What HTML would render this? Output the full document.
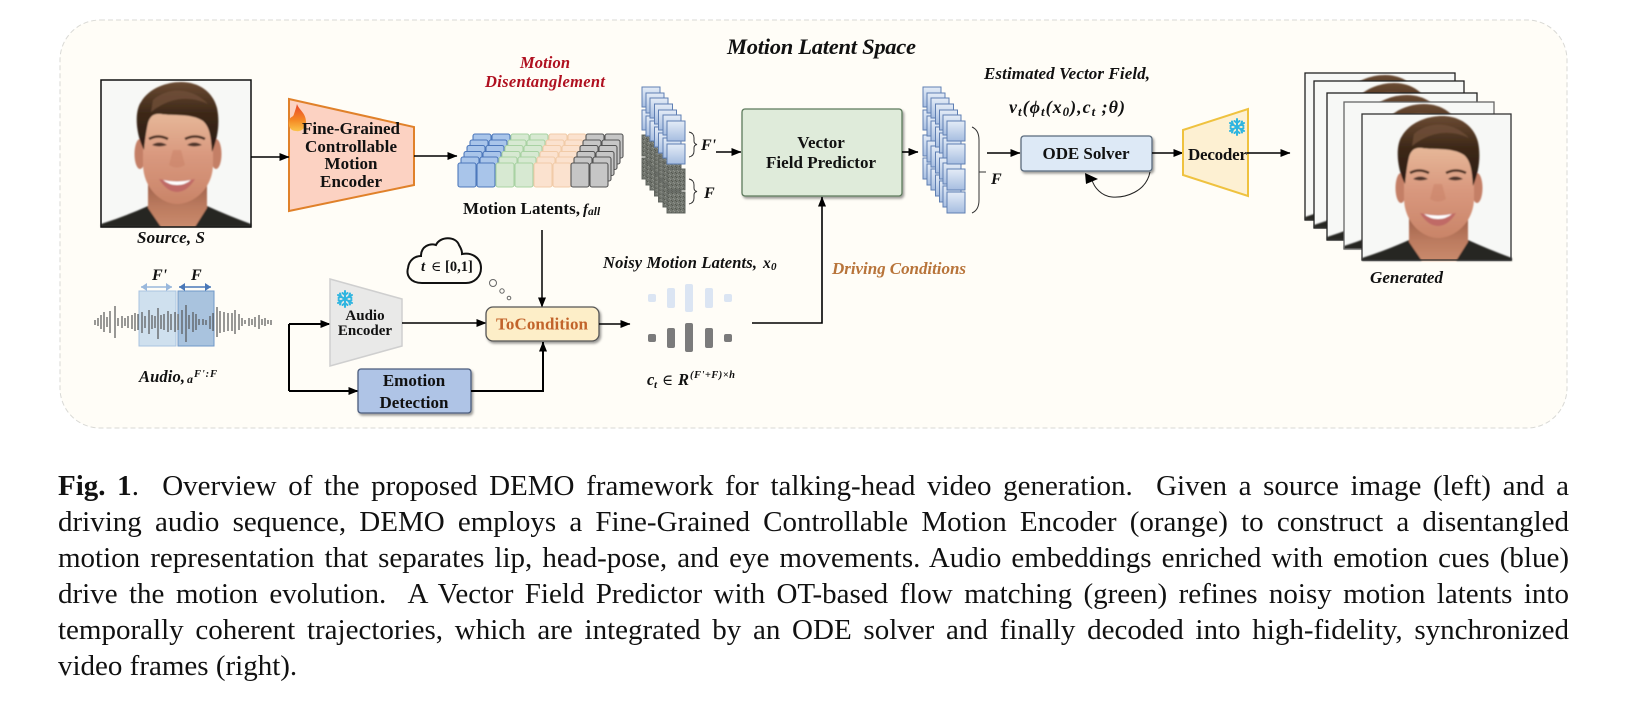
<!DOCTYPE html>
<html><head><meta charset="utf-8">
<style>
html,body{margin:0;padding:0;background:#fff;width:1627px;height:712px;overflow:hidden}
svg{position:absolute;left:0;top:0}
svg text{font-family:"Liberation Serif","DejaVu Serif",serif;font-weight:bold;fill:#111}
.i{font-style:italic}
.c{position:absolute;left:58px;height:36px;line-height:36px;width:1511px;font:29px/36px "Liberation Serif",serif;color:#111;text-align:justify;text-align-last:justify;white-space:nowrap}
.l{text-align:left;text-align-last:left}
</style></head><body>
<svg width="1627" height="712" viewBox="0 0 1627 712" xmlns="http://www.w3.org/2000/svg">
<defs>
<marker id="a" markerUnits="userSpaceOnUse" markerWidth="10" markerHeight="8" refX="9.5" refY="4" orient="auto"><path d="M0 0L10 4L0 8z" fill="#000"/></marker>
<filter id="sh" x="-10%" y="-10%" width="125%" height="130%"><feDropShadow dx="1.5" dy="2" stdDeviation="1.2" flood-color="#000" flood-opacity=".4"/></filter>
<filter id="b"><feGaussianBlur stdDeviation=".8"/></filter>
<linearGradient id="skin" x1="0" y1="0" x2="0" y2="1"><stop offset="0" stop-color="#e8bc9c"/><stop offset=".5" stop-color="#d9987e"/><stop offset="1" stop-color="#c98468"/></linearGradient>
<linearGradient id="neck" x1="0" y1="0" x2="0" y2="1"><stop offset="0" stop-color="#9c5f48"/><stop offset=".6" stop-color="#bd7c60"/><stop offset="1" stop-color="#c98a6c"/></linearGradient>
<linearGradient id="hair" x1="0" y1="0" x2="0" y2="1"><stop offset="0" stop-color="#6a4a32"/><stop offset=".45" stop-color="#3d2818"/><stop offset="1" stop-color="#291a10"/></linearGradient>
<linearGradient id="cube" x1="0" y1="0" x2="0" y2="1"><stop offset="0" stop-color="#e4ecf7"/><stop offset="1" stop-color="#a6bde0"/></linearGradient>
<linearGradient id="fl" x1="0" y1="0" x2="0" y2="1"><stop offset="0" stop-color="#e8452a"/><stop offset=".6" stop-color="#f58a25"/><stop offset="1" stop-color="#fbc34a"/></linearGradient>
<pattern id="n" width="4" height="4" patternUnits="userSpaceOnUse"><rect width="4" height="4" fill="#72766f"/><rect width="1" height="1" x="1" y="0" fill="#55584f"/><rect width="1" height="1" x="3" y="2" fill="#8d9088"/><rect width="1" height="1" x="0" y="3" fill="#55584f"/><rect width="1" height="1" x="2" y="1" fill="#8d9088"/></pattern>
<g id="face">
 <rect width="150" height="147" fill="#f7f8f6"/>
 <g filter="url(#b)">
 <path d="M0 147 L0 144 Q25 136 47 126 L106 126 Q128 136 150 144 L150 147Z" fill="#262624"/>
 <path d="M47 100 L47 128 L60 147 L94 147 L106 128 L106 100Z" fill="url(#neck)"/>
 <ellipse cx="39" cy="74" rx="5.500" ry="15" fill="#c47f66"/><ellipse cx="115" cy="74" rx="5.500" ry="15" fill="#c47f66"/>
 <path d="M42 42 C42 22 112 22 112 42 L112 84 C112 108 93 124 76 124 C60 124 42 108 42 84Z" fill="url(#skin)"/>
 <path d="M43 70 C35 55 33 32 40 22 C48 8 66 2 80 2 C98 2 112 12 116 28 C119 42 117 58 111 72 C110 58 109 47 102 41 C90 33 72 36 60 34 C53 33 49 36 47 43 C45 52 44 60 43 70Z" fill="url(#hair)"/>
 <path d="M52 20 C68 6 92 8 107 24 C90 16 70 16 50 32Z" fill="#72503a" opacity=".75"/>
 <path d="M48 59 Q57 54 67 59" stroke="#4a2f20" stroke-width="2.500" fill="none"/><path d="M84 59 Q94 54 104 59" stroke="#4a2f20" stroke-width="2.500" fill="none"/>
 <path d="M51 65 Q58 60 66 65 Q58 68 51 65Z" fill="#50342a"/><path d="M86 65 Q93 60 101 65 Q93 68 86 65Z" fill="#50342a"/>
 <path d="M68 85 Q76 90 84 85 L80 70 L72 70Z" fill="#c77f66" opacity=".5"/>
 <path d="M58 99 Q76 103 94 99 Q86 112 76 112 Q66 112 58 99Z" fill="#c06a66"/>
 <path d="M62 100 Q76 103 90 100 Q84 105 76 105 Q68 105 62 100Z" fill="#fff"/>
 </g>
</g>
<g id="st"><rect x="15" y="-29" width="18" height="24" rx="2"/><rect x="12" y="-23" width="18" height="24" rx="2"/><rect x="9" y="-17.500" width="18" height="24" rx="2"/><rect x="6" y="-11.500" width="18" height="24" rx="2"/><rect x="3" y="-6" width="18" height="24" rx="2"/><rect x="0" y="0" width="18" height="24" rx="2"/></g>
<g id="co"><use href="#st"/><use href="#st" x="19"/></g>
<g id="lb"><rect x="0" y="0" width="18" height="20" fill="url(#cube)" stroke="#5f7fb3" stroke-width="1"/><rect x="0" y="23" width="18" height="20" fill="url(#cube)" stroke="#5f7fb3" stroke-width="1"/><rect x="0" y="48" width="18" height="21" fill="url(#cube)" stroke="#5f7fb3" stroke-width="1"/><rect x="0" y="71" width="18" height="21" fill="url(#cube)" stroke="#5f7fb3" stroke-width="1"/></g>
<g id="lg"><rect x="0" y="0" width="18" height="20" fill="url(#cube)" stroke="#5f7fb3" stroke-width="1"/><rect x="0" y="23" width="18" height="20" fill="url(#cube)" stroke="#5f7fb3" stroke-width="1"/><rect x="0" y="48" width="18" height="21" fill="url(#n)" stroke="#626660" stroke-width="1"/><rect x="0" y="71" width="18" height="21" fill="url(#n)" stroke="#626660" stroke-width="1"/></g>
<g id="snow" stroke="#2fb5e0" stroke-width="2" stroke-linecap="round" fill="none"><path d="M0 -8V8M-7 -4L7 4M-7 4L7 -4"/><path d="M-2.500 -6L0 -4L2.500 -6M-2.500 6L0 4L2.500 6M-6.500 -1L-4 -2.500L-5 -5.500M6.500 1L4 2.500L5 5.500M-6.500 1L-4 2.500L-5 5.500M6.500 -1L4 -2.500L5 -5.500"/></g>
</defs>

<rect x="60" y="20" width="1507" height="408" rx="40" fill="#fffdf7" stroke="#d9d9d5" stroke-dasharray="5 3"/>

<!-- source -->
<use href="#face" x="101" y="80"/>
<rect x="101" y="80" width="150" height="147" fill="none" stroke="#111" stroke-width="1.500"/>

<!-- encoder -->
<path d="M289 99L414 127V185L289 211Z" fill="#fcd2c2" stroke="#e0812a" stroke-width="2"/>
<path d="M297 104C299 110 306 113 306 122C306 129 300 132 296 131C291 131 288 127 289 121C290 116 293 118 294 114C295 111 296 108 297 104Z" fill="url(#fl)"/>
<g font-size="17" text-anchor="middle"><text x="351" y="134" textLength="98" lengthAdjust="spacing">Fine-Grained</text><text x="351" y="152" textLength="92" lengthAdjust="spacing">Controllable</text><text x="351" y="169">Motion</text><text x="351" y="187" textLength="62" lengthAdjust="spacing">Encoder</text></g>
<path d="M251 157H289" stroke="#000" stroke-width="1.600" marker-end="url(#a)"/>
<path d="M414 156H457" stroke="#000" stroke-width="1.600" marker-end="url(#a)"/>

<!-- latents -->
<g fill="#a9c5ea" stroke="#4d78bb" stroke-width="1.100"><use href="#co" x="458" y="163"/></g>
<g fill="#d7e9d2" stroke="#a9d2a3" stroke-width="1.100"><use href="#co" x="496" y="163"/></g>
<g fill="#fbe2cf" stroke="#f1cba8" stroke-width="1.100"><use href="#co" x="534" y="163"/></g>
<g fill="#c6c6c6" stroke="#555" stroke-width="1.100"><use href="#co" x="571" y="163"/></g>
<text class="i" x="520" y="68" font-size="16.500" textLength="50" style="fill:#b01020">Motion</text>
<text class="i" x="485" y="87" font-size="16.500" textLength="120" style="fill:#b01020">Disentanglement</text>
<text x="463" y="214" font-size="17" textLength="117">Motion Latents,</text>
<text class="i" x="583" y="214" font-size="15">f<tspan font-size="11.500" dy="1">all</tspan></text>

<!-- left stack -->
<g><use href="#lg" x="642" y="87"/><use href="#lg" x="646" y="93"/><use href="#lg" x="650" y="98"/><use href="#lg" x="654.500" y="104"/><use href="#lg" x="658.500" y="110"/><use href="#lg" x="663" y="115"/><use href="#lg" x="667" y="121"/></g>
<path d="M689 132Q694 133 694 138V141Q694 144 697 144.500Q694 145 694 148V151Q694 156 689 157" fill="none" stroke="#333"/>
<path d="M689 179Q694 180 694 185V188Q694 191 697 191.500Q694 192 694 195V198Q694 203 689 204" fill="none" stroke="#333"/>
<text class="i" x="701" y="150" font-size="16">F'</text>
<text class="i" x="704" y="198" font-size="16">F</text>
<path d="M716 152H741" stroke="#000" stroke-width="1.600" marker-end="url(#a)"/>

<!-- VFP -->
<rect x="742" y="109" width="160" height="87" rx="3" fill="#dfebda" stroke="#5d7a5c" stroke-width="1.300" filter="url(#sh)"/>
<text x="821" y="148" font-size="17" text-anchor="middle">Vector</text>
<text x="821" y="168" font-size="17" text-anchor="middle" textLength="110">Field Predictor</text>
<path d="M902 152H918" stroke="#000" stroke-width="1.600" marker-end="url(#a)"/>

<!-- right stack -->
<g><use href="#lb" x="923" y="87"/><use href="#lb" x="927" y="93"/><use href="#lb" x="931" y="98"/><use href="#lb" x="935.500" y="104"/><use href="#lb" x="939.500" y="110"/><use href="#lb" x="943" y="115"/><use href="#lb" x="947" y="121"/></g>
<path d="M972 127Q979 130 979 140V200Q979 210 972 213" fill="none" stroke="#333"/><path d="M979 172H986" stroke="#333"/>
<text class="i" x="991" y="184" font-size="16">F</text>
<text class="i" x="984" y="79" font-size="17" textLength="166">Estimated Vector Field,</text>
<text class="i" x="1009" y="113" font-size="18" textLength="116">v<tspan dy="3" font-size="13">t</tspan><tspan dy="-3">(ϕ</tspan><tspan dy="3" font-size="13">t</tspan><tspan dy="-3">(x</tspan><tspan dy="3" font-size="13">0</tspan><tspan dy="-3">),c</tspan><tspan dy="3" font-size="13">t</tspan><tspan dy="-3"> ;θ)</tspan></text>
<text class="i" x="727" y="54" font-size="22.500" textLength="189">Motion Latent Space</text>
<path d="M987 153H1020" stroke="#000" stroke-width="1.600" marker-end="url(#a)"/>

<!-- ODE -->
<path d="M1150 172C1146 192 1125 198 1112 197C1101 196 1094 187 1092 180" fill="none" stroke="#222"/>
<rect x="1021" y="136" width="131" height="35" rx="3" fill="#dde9f6" stroke="#5a6a7c" stroke-width="1.300" filter="url(#sh)"/>
<path d="M1085 173L1098 179L1086 184Z" fill="#000"/>
<text x="1086" y="159" font-size="17" text-anchor="middle" textLength="87">ODE Solver</text>
<path d="M1152 153H1183" stroke="#000" stroke-width="1.600" marker-end="url(#a)"/>

<!-- decoder -->
<path d="M1183 130L1248 109V196L1183 175Z" fill="#fdf0d2" stroke="#efc23f" stroke-width="2"/>
<use href="#snow" x="1237" y="127"/>
<text x="1188" y="160" font-size="17" textLength="59">Decoder</text>
<path d="M1247 153H1290" stroke="#000" stroke-width="1.600" marker-end="url(#a)"/>

<!-- generated -->
<use href="#face" x="1305" y="73"/><rect x="1305" y="73" width="150" height="147" fill="none" stroke="#222" stroke-width="1.300"/>
<use href="#face" x="1314" y="81"/><rect x="1314" y="81" width="150" height="147" fill="none" stroke="#222" stroke-width="1.300"/>
<use href="#face" x="1327" y="93"/><rect x="1327" y="93" width="150" height="147" fill="none" stroke="#222" stroke-width="1.300"/>
<use href="#face" x="1344" y="102"/><rect x="1344" y="102" width="150" height="147" fill="none" stroke="#666" stroke-width="1.300"/>
<use href="#face" x="1362" y="114"/><rect x="1362" y="114" width="149" height="146" fill="none" stroke="#333" stroke-width="1.300"/>
<text class="i" x="1370" y="283" font-size="17" textLength="73">Generated</text>

<!-- lower -->
<text class="i" x="137" y="243" font-size="17" textLength="68">Source, S</text>
<rect x="139" y="291" width="37" height="55" fill="#cfe0ee" stroke="#a9c3e0"/>
<rect x="178" y="291" width="36" height="55" fill="#a9c3de" stroke="#6f98c8"/>
<path stroke="#555" stroke-width="1.200" fill="none" d="M95 320v5M98 318v8M101 315v14M104 312v20M107 317v10M110 311v22M115 306v32M118 318v8M122 316v12M125 318v8M128 316v12M132 315v14M135 313v18M138 314v16M142 312v21M145 316v12M149 310v24M152 315v14M155 316v12M158 308v31M161 315v14M164 314v16M168 311v21M171 314v16M175 312v20M178 314v16M182 310v24M186 305v37M189 315v14M193 312v20M196 314v16M199 319v6M203 319v6M206 320v5M210 316v13M213 313v18M217 307v30M220 311v22M224 312v20M228 313v18M232 313v18M235 310v24M239 314v16M242 318v8M245 320v4M249 318v8M252 319v6M255 317v10M259 315v14M262 319v6M265 318v8M268 320v4M271 320v5"/>
<path d="M141 287H172" stroke="#9ab8dc" stroke-width="1.500"/><path d="M147 283L141 287L147 291ZM166 283L172 287L166 291Z" fill="#9ab8dc"/>
<path d="M179 287H211" stroke="#4a78b8" stroke-width="1.500"/><path d="M185 283L179 287L185 291ZM205 283L211 287L205 291Z" fill="#4a78b8"/>
<text class="i" x="152" y="280" font-size="16">F'</text><text class="i" x="191" y="280" font-size="16">F</text>
<text class="i" x="139" y="382" font-size="16.500" textLength="46">Audio,</text>
<text class="i" x="187" y="383" font-size="12">a</text><text class="i" x="194" y="377" font-size="10.500" textLength="23">F':F</text>

<path d="M289 324V391" stroke="#000" stroke-width="2" fill="none"/>
<path d="M289 324H330" stroke="#000" stroke-width="2" marker-end="url(#a)"/>
<path d="M289 391H358" stroke="#000" stroke-width="2" marker-end="url(#a)"/>
<path d="M330 279L402 299V346L330 366Z" fill="#e9e9e8" stroke="#cfcfcf" stroke-width="1.500"/>
<use href="#snow" x="345" y="299"/>
<text x="365" y="320" font-size="15" text-anchor="middle">Audio</text>
<text x="365" y="335" font-size="15" text-anchor="middle">Encoder</text>
<rect x="358" y="369" width="113" height="44" rx="3" fill="#afc4e6" stroke="#4b5c7c" stroke-width="1.300" filter="url(#sh)"/>
<text x="414" y="386" font-size="17" text-anchor="middle">Emotion</text>
<text x="414" y="408" font-size="17" text-anchor="middle">Detection</text>
<path d="M471 391H543V342" stroke="#000" stroke-width="2" fill="none" marker-end="url(#a)"/>
<path d="M402 323H486" stroke="#000" stroke-width="1.500" marker-end="url(#a)"/>
<path d="M542 230V307" stroke="#000" stroke-width="1.500" marker-end="url(#a)"/>
<rect x="486" y="307" width="113" height="34" rx="7" fill="#fdeec8" stroke="#555" stroke-width="1.300" filter="url(#sh)"/>
<text x="542" y="329.500" font-size="17" text-anchor="middle" textLength="92" style="fill:#c2642b">ToCondition</text>
<path d="M599 324H630" stroke="#000" stroke-width="1.500" marker-end="url(#a)"/>

<path d="M422 283C410 283 406 275 408 268C409 260 415 256 421 256C421 246 430 243 436 245C440 236 456 236 459 245C462 250 462 252 462 254C472 252 481 258 481 268C481 277 474 283 466 283Z" fill="#fffdf7" stroke="#111" stroke-width="2"/>
<text class="i" x="421" y="271" font-size="15">t</text><text x="431" y="271" font-size="14" style="font-weight:normal">∈</text><text x="445" y="271" font-size="14.500">[0,1]</text>
<circle cx="493" cy="283" r="3.500" fill="none" stroke="#666"/><circle cx="502" cy="291" r="2.200" fill="none" stroke="#666"/><circle cx="509" cy="298" r="1.800" fill="none" stroke="#666"/>

<text class="i" x="603" y="268" font-size="16.500" textLength="154">Noisy Motion Latents,</text>
<text class="i" x="763" y="268" font-size="15.500">x</text><text class="i" x="771" y="270" font-size="11">0</text>
<g fill="#dbe5f3"><rect x="648" y="294" width="8" height="8" rx="2"/><rect x="667" y="288" width="8" height="20" rx="2"/><rect x="685" y="284" width="8" height="28" rx="2"/><rect x="705" y="288" width="8" height="20" rx="2"/><rect x="724" y="294" width="8" height="8" rx="2"/></g>
<g fill="#7b7b7b"><rect x="648" y="334" width="8" height="8" rx="2"/><rect x="667" y="328" width="8" height="20" rx="2"/><rect x="685" y="323" width="8" height="29" rx="2"/><rect x="705" y="328" width="8" height="20" rx="2"/><rect x="724" y="334" width="8" height="8" rx="2"/></g>
<text class="i" x="647" y="385" font-size="16.500">c</text><text class="i" x="654" y="388" font-size="11">t</text>
<text x="662" y="385" font-size="15" style="font-weight:normal">∈</text>
<text class="i" x="678" y="385" font-size="16.500">R</text><text class="i" x="690" y="378" font-size="10.500" textLength="45">(F'+F)×h</text>
<path d="M752 323H822V197" stroke="#000" stroke-width="1.600" fill="none" marker-end="url(#a)"/>
<text class="i" x="832" y="274" font-size="17" textLength="134" style="fill:#b8743a">Driving Conditions</text>
</svg>
<div class="c" style="top:468px"><b>Fig. 1</b>.&nbsp; Overview of the proposed DEMO framework for talking-head video generation.&nbsp; Given a source image (left) and a</div>
<div class="c" style="top:504px">driving audio sequence, DEMO employs a Fine-Grained Controllable Motion Encoder (orange) to construct a disentangled</div>
<div class="c" style="top:540px">motion representation that separates lip, head-pose, and eye movements. Audio embeddings enriched with emotion cues (blue)</div>
<div class="c" style="top:576px">drive the motion evolution.&nbsp; A Vector Field Predictor with OT-based flow matching (green) refines noisy motion latents into</div>
<div class="c" style="top:612px">temporally coherent trajectories, which are integrated by an ODE solver and finally decoded into high-fidelity, synchronized</div>
<div class="c l" style="top:648px">video frames (right).</div>
</body></html>
